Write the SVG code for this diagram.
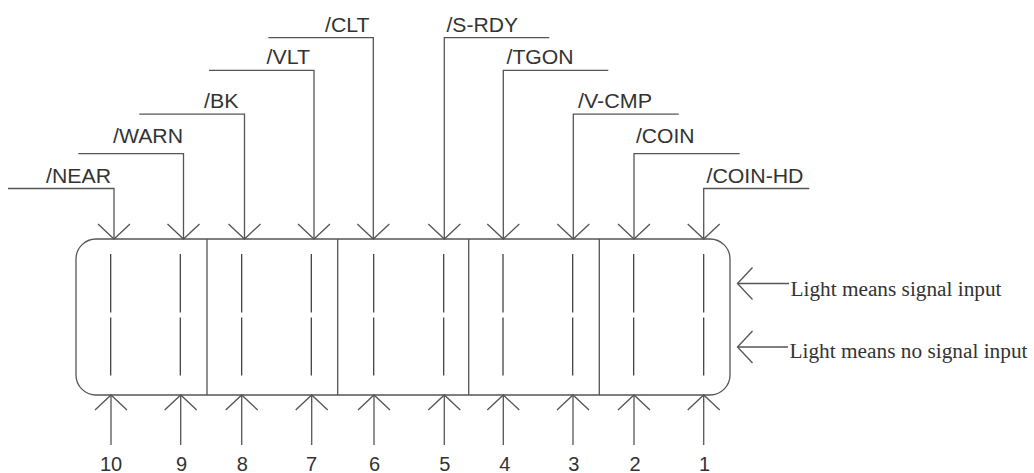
<svg xmlns="http://www.w3.org/2000/svg" width="1034" height="473" viewBox="0 0 1034 473">
  <style>
    .ln { fill: none; stroke: #555; stroke-width: 1.3; }
    .box { fill: #fff; stroke: #555; stroke-width: 1.3; }
    .seg { stroke: #333; stroke-width: 1.2; }
    .sig { font-family: "Liberation Sans", Arial, sans-serif; font-size: 20.5px; fill: #333; }
    .num { font-family: "Liberation Sans", Arial, sans-serif; font-size: 20px; fill: #333; text-anchor: middle; }
    .note { font-family: "Liberation Serif", "Times New Roman", serif; font-size: 20.5px; fill: #333; }
  </style>
  <defs>
    <marker id="v" markerWidth="17" markerHeight="34" refX="15" refY="16" orient="auto" markerUnits="userSpaceOnUse" overflow="visible">
      <path d="M0,0 L15,16 L0,32" fill="none" stroke="#555" stroke-width="1.3"/>
    </marker>
  </defs>
  <rect width="1034" height="473" fill="#fff"/>

  <g id="display">
    <rect class="box" x="76" y="239" width="654" height="156" rx="20" ry="20"/>
    <line class="ln" x1="207" y1="239" x2="207" y2="395"/>
    <line class="ln" x1="337.7" y1="239" x2="337.7" y2="395"/>
    <line class="ln" x1="468.7" y1="239" x2="468.7" y2="395"/>
    <line class="ln" x1="599.3" y1="239" x2="599.3" y2="395"/>
  </g>

  <g id="led-10"><path class="seg" d="M110.7,254 V312.5 M110.7,317.5 V375.5"/><text class="num" x="111" y="470.5">10</text></g>
  <g id="led-9"><path class="seg" d="M180.3,254 V312.5 M180.3,317.5 V375.5"/><text class="num" x="181.5" y="470.5">9</text></g>
  <g id="led-8"><path class="seg" d="M241.7,254 V312.5 M241.7,317.5 V375.5"/><text class="num" x="242.2" y="470.5">8</text></g>
  <g id="led-7"><path class="seg" d="M311.3,254 V312.5 M311.3,317.5 V375.5"/><text class="num" x="311.5" y="470.5">7</text></g>
  <g id="led-6"><path class="seg" d="M373.7,254 V312.5 M373.7,317.5 V375.5"/><text class="num" x="374.5" y="470.5">6</text></g>
  <g id="led-5"><path class="seg" d="M443.7,254 V312.5 M443.7,317.5 V375.5"/><text class="num" x="444.7" y="470.5">5</text></g>
  <g id="led-4"><path class="seg" d="M503,254 V312.5 M503,317.5 V375.5"/><text class="num" x="504.7" y="470.5">4</text></g>
  <g id="led-3"><path class="seg" d="M572.7,254 V312.5 M572.7,317.5 V375.5"/><text class="num" x="573.8" y="470.5">3</text></g>
  <g id="led-2"><path class="seg" d="M633.7,254 V312.5 M633.7,317.5 V375.5"/><text class="num" x="635" y="470.5">2</text></g>
  <g id="led-1"><path class="seg" d="M703.7,254 V312.5 M703.7,317.5 V375.5"/><text class="num" x="704.5" y="470.5">1</text></g>

  <g id="sig-near"><text class="sig" x="46" y="182.5" textLength="65" lengthAdjust="spacingAndGlyphs">/NEAR</text></g>
  <g id="sig-warn"><text class="sig" x="113" y="143" textLength="70" lengthAdjust="spacingAndGlyphs">/WARN</text></g>
  <g id="sig-bk"><text class="sig" x="204" y="107.5" textLength="34.5" lengthAdjust="spacingAndGlyphs">/BK</text></g>
  <g id="sig-vlt"><text class="sig" x="266.5" y="63.5" textLength="43.5" lengthAdjust="spacingAndGlyphs">/VLT</text></g>
  <g id="sig-clt"><text class="sig" x="325" y="31.5" textLength="44.5" lengthAdjust="spacingAndGlyphs">/CLT</text></g>
  <g id="sig-srdy"><text class="sig" x="446.5" y="31.5" textLength="71.5" lengthAdjust="spacingAndGlyphs">/S-RDY</text></g>
  <g id="sig-tgon"><text class="sig" x="506.5" y="63.5" textLength="67" lengthAdjust="spacingAndGlyphs">/TGON</text></g>
  <g id="sig-vcmp"><text class="sig" x="578" y="107.5" textLength="74" lengthAdjust="spacingAndGlyphs">/V-CMP</text></g>
  <g id="sig-coin"><text class="sig" x="636" y="143" textLength="58.5" lengthAdjust="spacingAndGlyphs">/COIN</text></g>
  <g id="sig-coinhd"><text class="sig" x="706.5" y="182.5" textLength="97" lengthAdjust="spacingAndGlyphs">/COIN-HD</text></g>

  <g id="note-on"><text class="note" x="790.5" y="295.5" textLength="211" lengthAdjust="spacingAndGlyphs">Light means signal input</text></g>
  <g id="note-off"><text class="note" x="789.5" y="358" textLength="238" lengthAdjust="spacingAndGlyphs">Light means no signal input</text></g>

  <g id="connectors">
    <path class="ln" marker-end="url(#v)" d="M8,188.5 H114 V239"/>
    <path class="ln" marker-end="url(#v)" d="M78.3,153.7 H183.5 V239"/>
    <path class="ln" marker-end="url(#v)" d="M139.3,114.2 H244.5 V239"/>
    <path class="ln" marker-end="url(#v)" d="M209,70.3 H314 V239"/>
    <path class="ln" marker-end="url(#v)" d="M268.3,37.7 H373.3 V239"/>
    <path class="ln" marker-end="url(#v)" d="M549.3,37.7 H444.3 V239"/>
    <path class="ln" marker-end="url(#v)" d="M608.3,70.3 H503.3 V239"/>
    <path class="ln" marker-end="url(#v)" d="M678.7,114.2 H573.3 V239"/>
    <path class="ln" marker-end="url(#v)" d="M739.7,153.7 H634 V239"/>
    <path class="ln" marker-end="url(#v)" d="M809.3,188.5 H703.7 V239"/>

    <path class="ln" marker-end="url(#v)" d="M111,445 V395"/>
    <path class="ln" marker-end="url(#v)" d="M180.7,445 V395"/>
    <path class="ln" marker-end="url(#v)" d="M241.7,445 V395"/>
    <path class="ln" marker-end="url(#v)" d="M311.7,445 V395"/>
    <path class="ln" marker-end="url(#v)" d="M374,445 V395"/>
    <path class="ln" marker-end="url(#v)" d="M444.3,445 V395"/>
    <path class="ln" marker-end="url(#v)" d="M503.3,445 V395"/>
    <path class="ln" marker-end="url(#v)" d="M573,445 V395"/>
    <path class="ln" marker-end="url(#v)" d="M634,445 V395"/>
    <path class="ln" marker-end="url(#v)" d="M703.7,445 V395"/>

    <path class="ln" marker-end="url(#v)" d="M789,283.5 H737.5"/>
    <path class="ln" marker-end="url(#v)" d="M788,347 H737.5"/>
  </g>
</svg>
